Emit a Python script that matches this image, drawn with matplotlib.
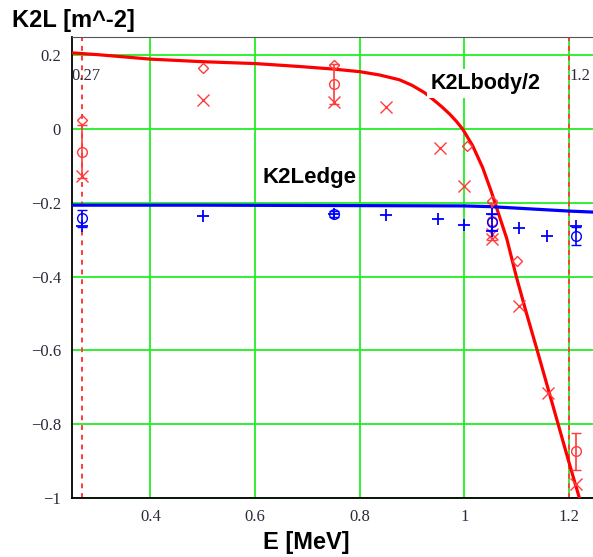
import matplotlib.pyplot as plt
import numpy as np

# K2Lbody/2 curve
E_body = [0.25, 0.30, 0.40, 0.50, 0.60, 0.685, 0.75, 0.80, 0.838, 0.876, 0.90,
          0.924, 0.940, 0.956, 0.972, 0.985, 0.997, 1.016, 1.035, 1.051, 1.061,
          1.081, 1.10, 1.119, 1.138, 1.163, 1.182, 1.201, 1.22]
K2L_body = [0.207, 0.202, 0.190, 0.183, 0.178, 0.170, 0.163, 0.156, 0.147, 0.134,
            0.119, 0.099, 0.081, 0.062, 0.041, 0.021, 0.0, -0.045, -0.104,
            -0.167, -0.21, -0.296, -0.403, -0.50, -0.593, -0.718, -0.813,
            -0.908, -1.0]

# K2Ledge line
E_edge = [0.25, 0.50, 0.75, 1.00, 1.05, 1.10, 1.15, 1.20, 1.25]
K2L_edge = [-0.206, -0.206, -0.207, -0.208, -0.210, -0.214, -0.218, -0.222, -0.225]

# red measurement points
red_diam_E = [0.27, 0.50, 0.75, 1.005, 1.053, 1.10]
red_diam_K = [0.025, 0.166, 0.175, -0.045, -0.196, -0.357]
red_x_E = [0.27, 0.50, 0.75, 0.85, 0.953, 1.0, 1.053, 1.053, 1.105, 1.16, 1.213]
red_x_K = [-0.127, 0.080, 0.074, 0.059, -0.050, -0.154, -0.285, -0.298, -0.48, -0.715, -0.962]
red_circ_E = [0.27, 0.75, 1.053, 1.213]
red_circ_K = [-0.061, 0.122, -0.25, -0.873]
red_circ_err = [0.072, 0.055, 0.05, 0.05]

# blue measurement points
blue_circ_E = [0.27, 0.75, 1.053, 1.213]
blue_circ_K = [-0.241, -0.230, -0.252, -0.290]
blue_circ_err = [0.023, 0.008, 0.022, 0.025]
blue_plus_E = [0.27, 0.50, 0.75, 0.85, 0.95, 1.0, 1.053, 1.053, 1.105, 1.158, 1.213]
blue_plus_K = [-0.262, -0.235, -0.230, -0.233, -0.244, -0.260, -0.231, -0.276, -0.268, -0.290, -0.262]

E_marks = [0.27, 1.2]

red = "#ff0000"
red_pt = "#ff3b3b"
blue = "#0000ff"
green = "#22ee22"
tick_col = "#2a2a3a"

fig = plt.figure(figsize=(5.93, 5.57), dpi=100)
ax = fig.add_axes([72/593, 1 - 498/557, 1 - 72/593, (498 - 37)/557])

ax.set_xlim(0.25, 1.246)
ax.set_ylim(-1, 0.25)
ax.set_xticks([0.4, 0.6, 0.8, 1.0, 1.2])
ax.set_xticklabels(["0.4", "0.6", "0.8", "1", "1.2"])
ax.set_yticks([0.2, 0, -0.2, -0.4, -0.6, -0.8, -1])
ax.set_yticklabels(["0.2", "0", "\u22120.2", "\u22120.4", "\u22120.6", "\u22120.8", "\u22121"])
ax.tick_params(length=0, pad=8, labelsize=12, labelcolor=tick_col)
for lab in ax.get_xticklabels() + ax.get_yticklabels():
    lab.set_family("Liberation Serif")
ax.grid(True, color=green, linewidth=1.3, zorder=0)
ax.set_axisbelow(True)
ax.spines["right"].set_visible(False)
ax.spines["top"].set_color("#555555")
ax.spines["left"].set_linewidth(1.3)
ax.spines["bottom"].set_linewidth(1.3)

# marker lines
for e in E_marks:
    ax.axvline(e, color=red_pt, linestyle=(0, (2.5, 2.5)), linewidth=1.4, zorder=2)
ax.text(0.276, 0.145, "0.27", ha="center", va="center", fontsize=12,
        family="Liberation Serif", color=tick_col)
ax.text(1.202, 0.145, "1.2", ha="left", va="center", fontsize=12,
        family="Liberation Serif", color=tick_col)

ax.plot(E_body, K2L_body, color=red, linewidth=2.3, zorder=4)
ax.plot(E_edge, K2L_edge, color=blue, linewidth=2.3, zorder=4)

# red points
ax.plot(red_diam_E, red_diam_K, linestyle="none", marker="D", markersize=5.5,
        markerfacecolor="none", markeredgecolor=red_pt, markeredgewidth=1, zorder=5)
ax.plot(red_x_E, red_x_K, linestyle="none", marker="x", markersize=8,
        color=red_pt, markeredgewidth=1, zorder=5)
ax.errorbar(red_circ_E, red_circ_K, yerr=red_circ_err, fmt="o", markersize=7,
            markerfacecolor="none", markeredgecolor=red_pt, ecolor=red_pt,
            elinewidth=1.2, capsize=3.5, capthick=1, markeredgewidth=1, zorder=5)

# blue points
ax.errorbar(blue_circ_E, blue_circ_K, yerr=blue_circ_err, fmt="o", markersize=7,
            markerfacecolor="none", markeredgecolor=blue, ecolor=blue,
            elinewidth=1.2, capsize=3.5, capthick=1, markeredgewidth=1, zorder=6)
ax.plot(blue_plus_E, blue_plus_K, linestyle="none", marker="+", markersize=9,
        color=blue, markeredgewidth=1.3, zorder=6)

# curve labels
ax.text(0.615, -0.132, "K2Ledge", fontsize=16, fontweight="bold",
        family="Liberation Sans", ha="left", va="center", zorder=7)
ax.text(0.936, 0.123, "K2Lbody/2", fontsize=15.5, fontweight="bold",
        family="Liberation Sans", ha="left", va="center", zorder=7,
        bbox=dict(facecolor="white", edgecolor="none", pad=3))

fig.text(12/593, 1 - 20/557, "K2L [m^-2]", fontsize=17, fontweight="bold",
         family="Liberation Sans", ha="left", va="center")
fig.text(306/593, 1 - 543/557, "E [MeV]", fontsize=17, fontweight="bold",
         family="Liberation Sans", ha="center", va="center")

fig.savefig("out.png", dpi=100)
